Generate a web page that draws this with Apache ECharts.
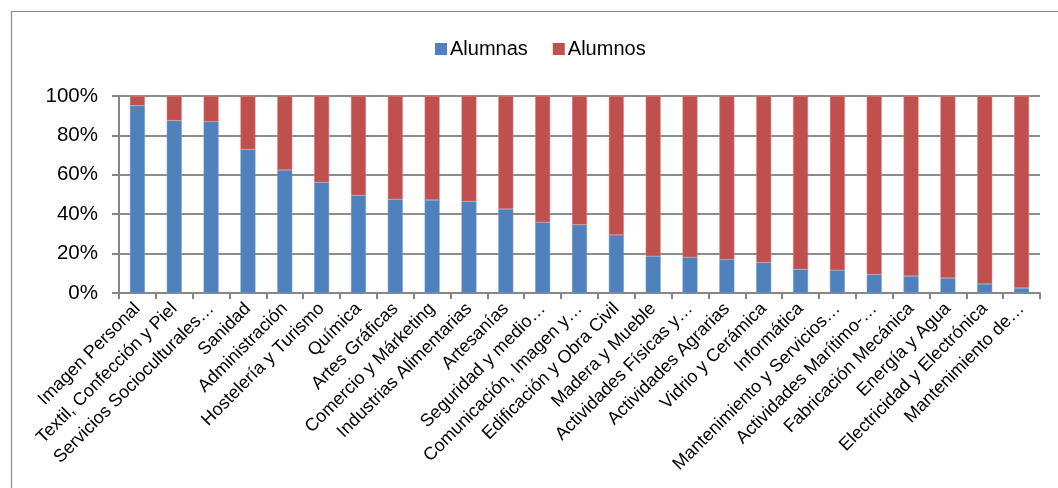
<!DOCTYPE html>
<html>
<head>
<meta charset="utf-8">
<script src="https://cdn.jsdelivr.net/npm/echarts@6/dist/echarts.min.js"></script>
<style>
html,body{margin:0;padding:0;background:#fff;}
#chart{width:1058px;height:488px;}
</style>
</head>
<body>
<div id="chart"></div>
<script>
const categories = [
  "Imagen Personal",
  "Textil, Confección y Piel",
  "Servicios Socioculturales…",
  "Sanidad",
  "Administración",
  "Hostelería y Turismo",
  "Química",
  "Artes Gráficas",
  "Comercio y Márketing",
  "Industrias Alimentarias",
  "Artesanías",
  "Seguridad y medio…",
  "Comunicación, Imagen y…",
  "Edificación y Obra Civil",
  "Madera y Mueble",
  "Actividades Físicas y…",
  "Actividades Agrarias",
  "Vidrio y Cerámica",
  "Informática",
  "Mantenimiento y Servicios…",
  "Actividades Marítimo-…",
  "Fabricación Mecánica",
  "Energía y Agua",
  "Electricidad y Electrónica",
  "Mantenimiento de…"
];
const alumnas = [95.1, 87.5, 87.0, 72.8, 62.4, 56.2, 49.6, 47.6, 47.2, 46.5, 42.7, 35.9, 34.6, 29.5, 18.7, 18.2, 16.9, 15.5, 12.0, 11.6, 9.4, 8.6, 7.6, 4.6, 2.5];
const alumnos = [4.9, 12.5, 13.0, 27.2, 37.6, 43.8, 50.4, 52.4, 52.8, 53.5, 57.3, 64.1, 65.4, 70.5, 81.3, 81.8, 83.1, 84.5, 88.0, 88.4, 90.6, 91.4, 92.4, 95.4, 97.5];
const yTicks = [0, 20, 40, 60, 80, 100];

const FONT = "Liberation Sans, Arial, Helvetica, sans-serif";
const chart = echarts.init(document.getElementById('chart'), null, {renderer: 'canvas'});
chart.setOption({
  animation: false,
  backgroundColor: '#ffffff',
  graphic: [{
    type: 'rect',
    shape: {x: 11.5, y: 11.5, width: 1200, height: 700},
    style: {fill: 'none', stroke: '#8a8a8a', lineWidth: 1.2},
    silent: true
  }],
  legend: {
    data: ['Alumnas', 'Alumnos'],
    left: 430,
    top: 34,
    itemWidth: 12,
    itemHeight: 12,
    itemGap: 25,
    icon: 'rect',
    itemStyle: {borderWidth: 0},
    textStyle: {fontFamily: FONT, fontSize: 20, color: '#000', padding: [0, 0, 0, -2]}
  },
  grid: {left: 119, right: 18, top: 96, bottom: 195, containLabel: false},
  xAxis: {
    type: 'category',
    data: categories,
    axisLine: {show: true, lineStyle: {color: '#868686', width: 2}},
    axisTick: {show: true, alignWithLabel: false, length: 6, lineStyle: {color: '#868686', width: 2}},
    axisLabel: {
      interval: 0,
      rotate: 45,
      margin: 13,
      fontFamily: FONT,
      fontSize: 18,
      color: '#000'
    },
    splitLine: {show: false}
  },
  yAxis: {
    type: 'value',
    min: yTicks[0],
    max: yTicks[yTicks.length - 1],
    interval: 20,
    axisLine: {show: true, lineStyle: {color: '#868686', width: 2}},
    axisTick: {show: true, length: 7, lineStyle: {color: '#868686', width: 2}},
    axisLabel: {
      formatter: '{value}%',
      margin: 21,
      fontFamily: FONT,
      fontSize: 20.5,
      color: '#000'
    },
    splitLine: {show: true, lineStyle: {color: '#8c8c8c', width: 2}}
  },
  series: [
    {
      name: 'Alumnas',
      type: 'bar',
      stack: 'total',
      barWidth: 15,
      data: alumnas,
      itemStyle: {color: '#4F81BD', borderColor: '#7a9fcf', borderWidth: 0.5}
    },
    {
      name: 'Alumnos',
      type: 'bar',
      stack: 'total',
      barWidth: 15,
      data: alumnos,
      itemStyle: {color: '#C0504D', borderColor: '#d48a88', borderWidth: 0.5}
    }
  ]
});
</script>
</body>
</html>
